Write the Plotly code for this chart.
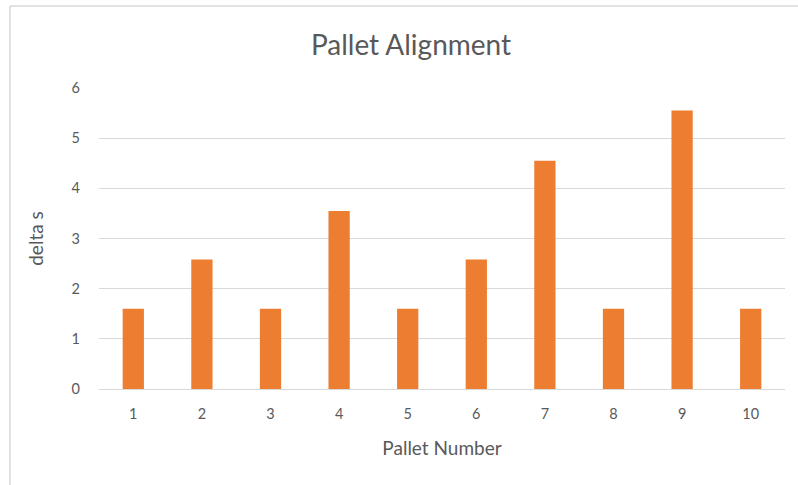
import plotly.graph_objects as go

# Pallet alignment measurements
pallets = ["1", "2", "3", "4", "5", "6", "7", "8", "9", "10"]
delta_s = [1.6, 2.58, 1.6, 3.55, 1.6, 2.58, 4.55, 1.6, 5.55, 1.6]
y_ticks = [0, 1, 2, 3, 4, 5, 6]

TEXT = "#595959"
GRID = "#d9d9d9"
FONT = "Lato, 'Open Sans', sans-serif"

fig = go.Figure(
    go.Bar(
        x=pallets,
        y=delta_s,
        marker=dict(color="#ED7D31", line=dict(width=0)),
    )
)

fig.update_layout(
    width=798,
    height=485,
    margin=dict(l=99, r=13, t=88, b=96),
    paper_bgcolor="white",
    plot_bgcolor="white",
    bargap=0.69,
    showlegend=False,
    font=dict(family=FONT, color=TEXT, size=14),
    title=dict(
        text="Pallet Alignment",
        x=0.515,
        xanchor="center",
        y=0.907,
        yanchor="middle",
        font=dict(family=FONT, size=28, color=TEXT),
    ),
    xaxis=dict(
        type="category",
        showgrid=False,
        showline=True,
        linecolor=GRID,
        linewidth=1,
        ticks="",
        ticklabelstandoff=12,
        tickfont=dict(size=14.5, color=TEXT),
        title=dict(text="Pallet Number", standoff=20,
                   font=dict(size=19, color=TEXT)),
    ),
    yaxis=dict(
        range=[0, 6],
        tickvals=y_ticks,
        showgrid=True,
        gridcolor=GRID,
        gridwidth=1,
        zeroline=False,
        showline=False,
        ticks="",
        ticklabelstandoff=18,
        tickfont=dict(size=14.5, color=TEXT),
        title=dict(text="delta s", standoff=22,
                   font=dict(size=19, color=TEXT)),
    ),
    shapes=[
        # frame edges on the left and top of the chart area
        dict(type="line", xref="paper", yref="paper",
             x0=(10 - 99) / 686, x1=(798 - 99) / 686,
             y0=(389 - 6) / 301, y1=(389 - 6) / 301,
             line=dict(color=GRID, width=1.5)),
        dict(type="line", xref="paper", yref="paper",
             x0=(10 - 99) / 686, x1=(10 - 99) / 686,
             y0=(389 - 6) / 301, y1=(389 - 485) / 301,
             line=dict(color=GRID, width=1.5)),
    ],
)

fig.write_html("out.html")
